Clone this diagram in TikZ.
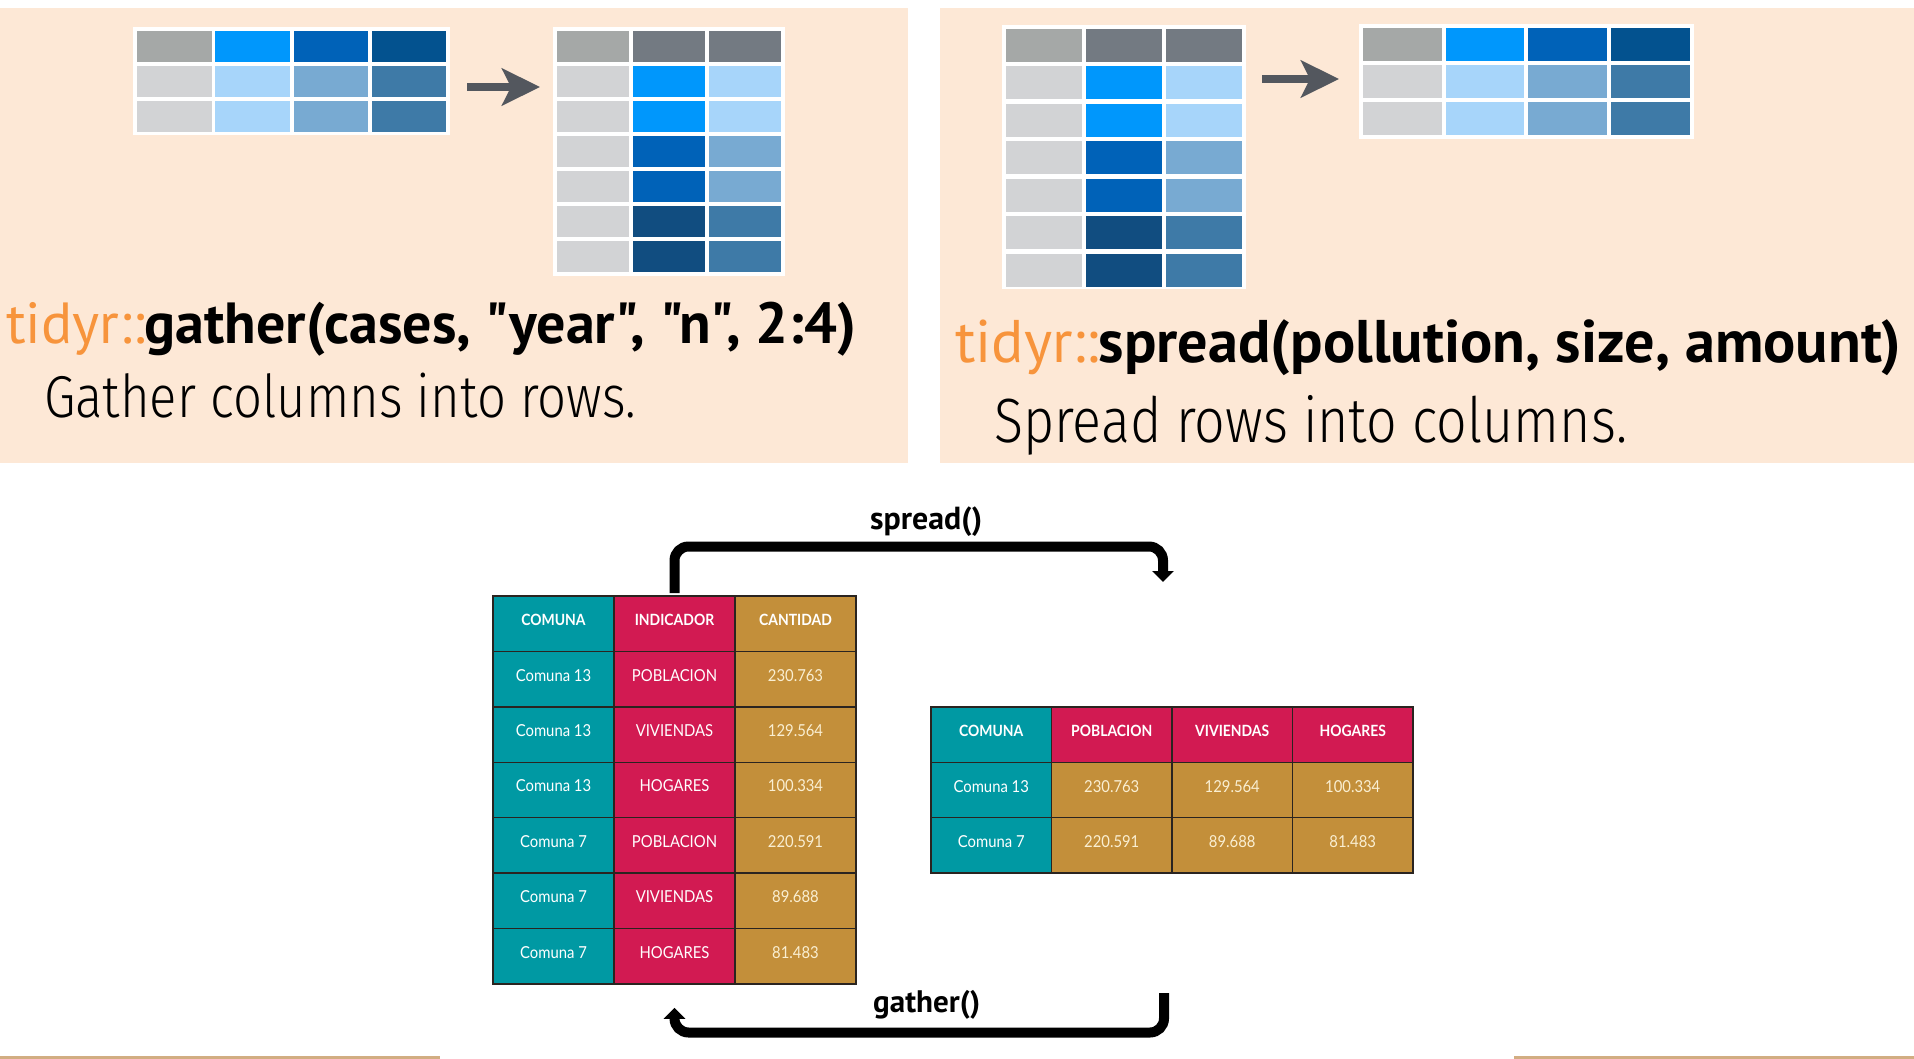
\documentclass[tikz,border=0pt]{standalone}
\usepackage{fontspec}
\usepackage{graphicx}
\setmainfont{PT Sans}
\newfontfamily\codefont{PT Sans}[Ligatures=TeXOff]
\newfontfamily\lightfont{Fira Sans Light}[FakeStretch=0.86]
\newfontfamily\tabfont[FakeStretch=0.9]{Lato}
\usetikzlibrary{arrows.meta}
\definecolor{peach}{RGB}{253,232,214}
\definecolor{cgray}{HTML}{A5A8A7}
\definecolor{cdgray}{HTML}{737A82}
\definecolor{clgray}{HTML}{D2D3D5}
\definecolor{cbright}{HTML}{0097FC}
\definecolor{cmid}{HTML}{0062B8}
\definecolor{cdark}{HTML}{03528F}
\definecolor{clblue}{HTML}{A7D5FA}
\definecolor{cmlblue}{HTML}{78AAD2}
\definecolor{csteel}{HTML}{3E7AA7}
\definecolor{cdeep}{HTML}{114D80}
\definecolor{arrgray}{HTML}{53575E}
\definecolor{torange}{HTML}{F7943C}
\definecolor{cteal}{HTML}{0099A3}
\definecolor{cpink}{HTML}{D21A52}
\definecolor{cgold}{HTML}{C38F3A}
\definecolor{ccream}{HTML}{FAEFD2}
\definecolor{cline}{HTML}{2A2420}
\definecolor{ctan}{HTML}{D2AD82}
\begin{document}
\begin{tikzpicture}[x=1pt,y=-1pt,
  wbox/.style={fill=white, inner sep=0pt, draw=none},
  parrow/.style={line width=8pt, arrgray, -{Stealth[length=38pt,width=37pt,inset=9pt]}},
  conn/.style={line width=10pt, black, rounded corners=14pt, -{Triangle[length=11pt,width=21pt]}},
  tcell/.style={draw=cline, line width=1.5pt, inner sep=0pt, minimum width=121pt, minimum height=55.43pt,
    text depth=8pt, font=\tabfont\fontsize{16.5}{18}\selectfont, text=white},
  rcell/.style={tcell, minimum width=120.5pt, minimum height=55.33pt},
  hdr/.style={font=\tabfont\bfseries\fontsize{15.5}{18}\selectfont},
  ttl/.style={anchor=base west, inner sep=0pt}
]
\useasboundingbox (0,0) rectangle (1914,1059);
\fill[white] (0,0) rectangle (1914,1059);
% panels
\fill[peach] (0,8) rectangle (908,463);
\fill[peach] (940,8) rectangle (1914,463);
% bottom strips
\fill[ctan] (0,1056) rectangle (440,1059);
\fill[ctan] (1514,1056) rectangle (1914,1059);

% ---- T1 (gather, wide)
\node[wbox, minimum width=317pt, minimum height=108pt] (t1) at (291.5,81) {};
\foreach \r/\a/\b/\c/\d in {0/cgray/cbright/cmid/cdark, 1/clgray/clblue/cmlblue/csteel, 2/clgray/clblue/cmlblue/csteel}{
  \fill[\a] (137,{31+35*\r}) rectangle +(74.5,31);
  \fill[\b] ({137+78.3},{31+35*\r}) rectangle +(74.5,31);
  \fill[\c] ({137+2*78.3},{31+35*\r}) rectangle +(74.5,31);
  \fill[\d] ({137+3*78.3},{31+35*\r}) rectangle +(74.5,31);
}
% ---- T2 (gather, long)
\node[wbox, minimum width=232pt, minimum height=249pt] (t2) at (669,151.5) {};
\foreach \r/\a/\b/\c in {0/cgray/cdgray/cdgray, 1/clgray/cbright/clblue, 2/clgray/cbright/clblue, 3/clgray/cmid/cmlblue, 4/clgray/cmid/cmlblue, 5/clgray/cdeep/csteel, 6/clgray/cdeep/csteel}{
  \fill[\a] (557,{31+35*\r}) rectangle +(72,31);
  \fill[\b] (633,{31+35*\r}) rectangle +(72,31);
  \fill[\c] (709,{31+35*\r}) rectangle +(72,31);
}
% ---- T3 (spread, long)
\node[wbox, minimum width=244pt, minimum height=264pt] (t3) at (1124,157) {};
\foreach \r/\a/\b/\c in {0/cgray/cdgray/cdgray, 1/clgray/cbright/clblue, 2/clgray/cbright/clblue, 3/clgray/cmid/cmlblue, 4/clgray/cmid/cmlblue, 5/clgray/cdeep/csteel, 6/clgray/cdeep/csteel}{
  \fill[\a] (1006,{29+37.5*\r}) rectangle +(76,33);
  \fill[\b] (1086,{29+37.5*\r}) rectangle +(76,33);
  \fill[\c] (1166,{29+37.5*\r}) rectangle +(76,33);
}
% ---- T4 (spread, wide)
\node[wbox, minimum width=335pt, minimum height=115pt] (t4) at (1526.5,81.5) {};
\foreach \r/\a/\b/\c/\d in {0/cgray/cbright/cmid/cdark, 1/clgray/clblue/cmlblue/csteel, 2/clgray/clblue/cmlblue/csteel}{
  \fill[\a] (1363,{28+37*\r}) rectangle +(78.5,33);
  \fill[\b] ({1363+82.7},{28+37*\r}) rectangle +(78.5,33);
  \fill[\c] ({1363+2*82.7},{28+37*\r}) rectangle +(78.5,33);
  \fill[\d] ({1363+3*82.7},{28+37*\r}) rectangle +(78.5,33);
}
% peach arrows
\coordinate (a1s) at (467,87);
\coordinate (a1e) at (540,87);
\draw[parrow] (a1s) -- (a1e);
\coordinate (a2s) at (1262,79);
\coordinate (a2e) at (1339,79);
\draw[parrow] (a2s) -- (a2e);

% titles
\node[ttl] (title1) at (6,343) {\resizebox{850pt}{!}{\codefont\fontsize{50}{60}\selectfont\textcolor{torange}{tidyr::}\textbf{gather(cases, "year", "n", 2:4)}}};
\node[ttl] (sub1) at (44,417) {\resizebox{592pt}{!}{\lightfont\fontsize{50}{60}\selectfont Gather columns into rows.}};
\node[ttl] (title2) at (955,362) {\resizebox{946pt}{!}{\codefont\fontsize{50}{60}\selectfont\textcolor{torange}{tidyr::}\textbf{spread(pollution, size, amount)}}};
\node[ttl] (sub2) at (994,442) {\resizebox{633pt}{!}{\lightfont\fontsize{50}{60}\selectfont Spread rows into columns.}};

% ---- left long table
\node[tcell, fill=cteal, hdr] (La0) at (553.5,623.7) {COMUNA};
\node[tcell, fill=cpink, hdr] (Lb0) at (674.5,623.7) {INDICADOR};
\node[tcell, fill=cgold, hdr] (Lc0) at (795.5,623.7) {CANTIDAD};
\foreach \a/\b/\c [count=\r] in {Comuna 13/POBLACION/230.763, Comuna 13/VIVIENDAS/129.564, Comuna 13/HOGARES/100.334, Comuna 7/POBLACION/220.591, Comuna 7/VIVIENDAS/89.688, Comuna 7/HOGARES/81.483}{
  \node[tcell, fill=cteal] (La\r) at (553.5,{623.7+55.43*\r}) {\a};
  \node[tcell, fill=cpink] (Lb\r) at (674.5,{623.7+55.43*\r}) {\b};
  \node[tcell, fill=cgold, text=ccream] (Lc\r) at (795.5,{623.7+55.43*\r}) {\c};
}
% ---- right wide table
\node[rcell, fill=cteal, hdr] (Ra0) at (991.25,734.7) {COMUNA};
\node[rcell, fill=cpink, hdr] (Rb0) at (1111.75,734.7) {POBLACION};
\node[rcell, fill=cpink, hdr] (Rc0) at (1232.25,734.7) {VIVIENDAS};
\node[rcell, fill=cpink, hdr] (Rd0) at (1352.75,734.7) {HOGARES};
\foreach \a/\b/\c/\d [count=\r] in {Comuna 13/230.763/129.564/100.334, Comuna 7/220.591/89.688/81.483}{
  \node[rcell, fill=cteal] (Ra\r) at (991.25,{734.7+55.33*\r}) {\a};
  \node[rcell, fill=cgold, text=ccream] (Rb\r) at (1111.75,{734.7+55.33*\r}) {\b};
  \node[rcell, fill=cgold, text=ccream] (Rc\r) at (1232.25,{734.7+55.33*\r}) {\c};
  \node[rcell, fill=cgold, text=ccream] (Rd\r) at (1352.75,{734.7+55.33*\r}) {\d};
}

% ---- spread / gather connectors
\coordinate (sS) at ([yshift=2pt]Lb0.north);
\coordinate (sE) at (1163,582);
\coordinate (sBar) at (0,546.5);
\draw[conn] (sS) -- (sS |- sBar) -- (sE |- sBar) -- (sE);
\node[ttl] (spreadlbl) at (870,529) {\resizebox{112pt}{!}{\fontsize{30}{36}\selectfont\bfseries spread()}};

\coordinate (gS) at (1164,993);
\coordinate (gE) at ([yshift=-23pt]Lb6.south);
\coordinate (gBar) at (0,1032.5);
\draw[conn] (gS) -- (gS |- gBar) -- (gE |- gBar) -- (gE);
\node[ttl] (gatherlbl) at (873,1012) {\resizebox{107pt}{!}{\fontsize{30}{36}\selectfont\bfseries gather()}};
\end{tikzpicture}
\end{document}
